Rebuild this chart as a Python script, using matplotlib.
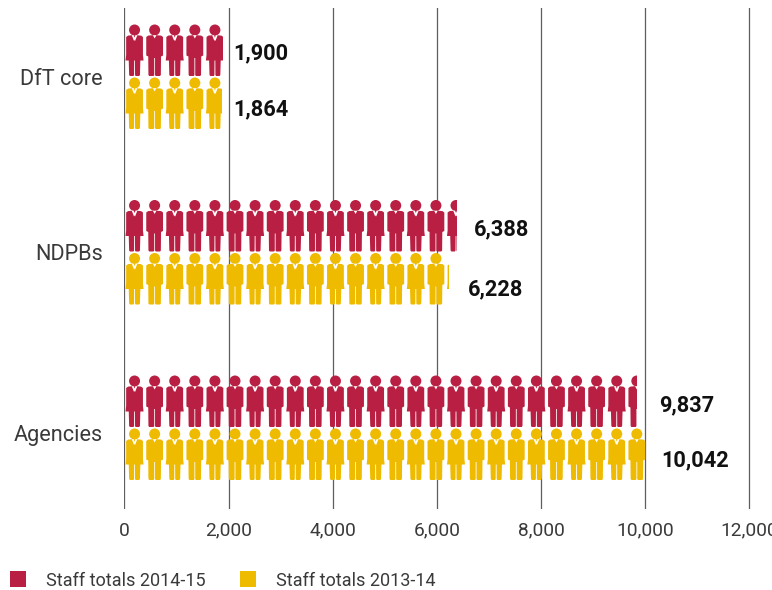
import matplotlib
matplotlib.use("Agg")
import matplotlib.pyplot as plt
from matplotlib.patches import Ellipse, Polygon, Rectangle

categories = ["DfT core", "NDPBs", "Agencies"]
staff_2014_15 = [1900, 6388, 9837]
staff_2013_14 = [1864, 6228, 10042]
series_names = ["Staff totals 2014-15", "Staff totals 2013-14"]
xticks = [0, 2000, 4000, 6000, 8000, 10000, 12000]
staff_per_icon = 386

RED = "#b81f42"
YELLOW = "#eebb00"
GRID = "#5e5e5e"
TEXT = "#3a3a3a"
SANS = ["Roboto", "Liberation Sans"]

W, H = 772, 590
fig = plt.figure(figsize=(W / 100, H / 100), dpi=100)
AX_L, AX_T, AX_B = 124.5, 8, 509
ax = fig.add_axes([AX_L / W, 1 - AX_B / H, 1 - AX_L / W, (AX_B - AX_T) / H])
PX_PER_X = 104.1 / 2000
PX_PER_Y = 175.5
ax.set_xlim(0, (W - AX_L) / PX_PER_X)
ax.set_ylim((AX_B - 77) / PX_PER_Y, (AX_T - 77) / PX_PER_Y)
for s in ax.spines.values():
    s.set_visible(False)

ax.set_xticks(xticks)
ax.set_xticklabels([f"{t:,}" for t in xticks])
ax.tick_params(axis="x", length=0, pad=9, labelsize=13.8, labelcolor=TEXT)
ax.set_yticks([0, 1.0, 2.028])
ax.set_yticklabels(categories)
ax.tick_params(axis="y", length=0, pad=15.5, labelsize=15.6, labelcolor=TEXT)
for lab in ax.get_xticklabels() + ax.get_yticklabels():
    lab.set_fontfamily(SANS)
ax.set_axisbelow(True)
ax.grid(axis="x", color=GRID, lw=0.9)
ax.grid(axis="y", visible=False)


def dx(px):
    return px / PX_PER_X


def dy(px):
    return px / PX_PER_Y


SUIT = [(-6.5, 10.6), (-2, 10.2), (2, 10.2), (6.5, 10.6), (8.4, 12), (8.4, 30.5), (6.4, 31.5),
        (6.2, 50), (5.4, 51), (1.1, 51), (0.4, 50), (0.4, 33), (-0.4, 33), (-0.4, 50),
        (-1.1, 51), (-5.4, 51), (-6.2, 50), (-6.4, 31.5), (-8.4, 30.5), (-8.4, 12)]
DRESS = [(-6.5, 10.6), (-2, 10.2), (2, 10.2), (6.5, 10.6), (8.4, 12), (8.4, 30), (9, 35.5),
         (5.8, 35.5), (5.4, 50), (4.6, 51), (1.1, 51), (0.5, 50), (0.4, 35.5), (-0.4, 35.5), (-0.5, 50),
         (-1.1, 51), (-4.6, 51), (-5.4, 50), (-5.8, 35.5), (-9, 35.5), (-8.4, 30), (-8.4, 12)]
SUIT_TIE = [(-1.8, 10.2), (0, 13.5), (1.8, 10.2)]
DRESS_COLLAR = [(-2.8, 10.2), (-0.5, 16), (0, 14.8), (0.5, 16), (2.8, 10.2), (0.9, 10.2), (0, 12.6), (-0.9, 10.2)]


def draw_person(index, y_top, colour, clip):
    cx = (index + 0.5) * staff_per_icon
    is_dress = index % 2 == 0
    body = DRESS if is_dress else SUIT
    detail = DRESS_COLLAR if is_dress else SUIT_TIE
    def conv(pts):
        return [(cx + dx(x), y_top + dy(y)) for x, y in pts]
    parts = [
        Ellipse((cx, y_top + dy(5)), dx(11), dy(11), fc=colour, ec="none", zorder=3),
        Polygon(conv(body), closed=True, fc=colour, ec="none", zorder=3),
        Polygon(conv(detail), closed=True, fc="white", ec="none", zorder=4),
    ]
    for p in parts:
        ax.add_patch(p)
        p.set_clip_path(clip)


def draw_row(value, y_top, colour):
    clip = Rectangle((0, y_top - dy(2)), value, dy(56), transform=ax.transData)
    n = 0
    while n * staff_per_icon < value:
        draw_person(n, y_top, colour, clip)
        n += 1


label_dx_px = [[9.5, 11.5], [16.5, 19], [23, 14]]
label_dy_px = [[-26, 30], [-26, 34], [-25, 30]]
for i, (a, b) in enumerate(zip(staff_2014_15, staff_2013_14)):
    draw_row(a, i + dy(-52), RED)
    draw_row(b, i + dy(1), YELLOW)
    for val, ox, oy in zip((a, b), label_dx_px[i], label_dy_px[i]):
        ax.text(val + dx(ox), i + dy(oy), f"{val:,}", ha="left", va="center_baseline",
                fontsize=15.7, fontweight="bold", color="#111111",
                family=SANS, zorder=5)

fig.patches.extend([
    Rectangle((10 / W, 1 - 587 / H), 16 / W, 16 / H, transform=fig.transFigure, fc=RED, ec="none"),
    Rectangle((240 / W, 1 - 587 / H), 16 / W, 16 / H, transform=fig.transFigure, fc=YELLOW, ec="none"),
])
for x, name in zip((46, 276), series_names):
    fig.text(x / W, 1 - 579.5 / H, name, ha="left", va="center_baseline", fontsize=13.0,
             color=TEXT, family=SANS)

fig.savefig("out.png", dpi=100)
